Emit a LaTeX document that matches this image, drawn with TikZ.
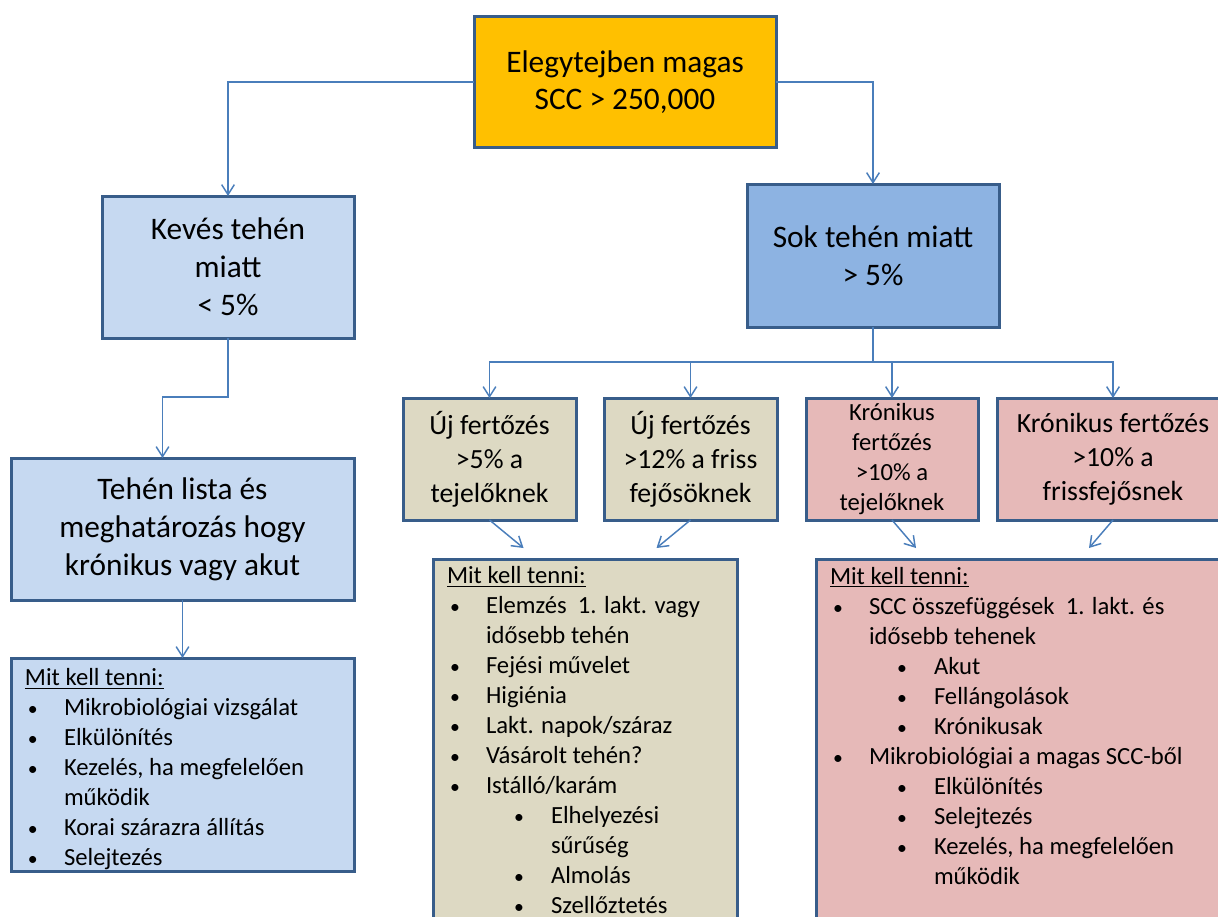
\documentclass[tikz,border=0pt]{standalone}
\usepackage{fontspec}
\setmainfont{Carlito}
\usepackage{xcolor}
\usepackage{tikz}
\usetikzlibrary{arrows.meta, positioning}

\definecolor{frame}{HTML}{385D8A}
\definecolor{link}{HTML}{4A7EBB}
\definecolor{gold}{HTML}{FFC000}
\definecolor{paleblue}{HTML}{C6D9F1}
\definecolor{midblue}{HTML}{8DB3E2}
\definecolor{tan}{HTML}{DDD9C3}
\definecolor{rose}{HTML}{E6B9B8}

% bullet lines of the "Mit kell tenni" lists
\newcommand{\bdot}{\scalebox{0.8}{\textbullet}}
\newcommand{\itm}[1]{\par\hspace*{2.25pt}\makebox[27pt][l]{\bdot}#1}
\newcommand{\cont}[1]{\par\hspace*{29.25pt}#1}
\newcommand{\sitm}[1]{\par\hspace*{50.25pt}\makebox[27.75pt][l]{\bdot}#1}
\newcommand{\scont}[1]{\par\hspace*{78pt}#1}

\begin{document}
\begin{tikzpicture}[x=0.75pt, y=-0.75pt]
\tikzstyle{box} = [draw=frame, line width=2.25pt, inner sep=0pt, outer sep=0pt, align=center]
\tikzstyle{big} = [font=\fontsize{23.5}{28.5}\selectfont]
\tikzstyle{mid} = [font=\fontsize{20.8}{25.5}\selectfont]
\tikzstyle{small} = [font=\fontsize{18.5}{22.5}\selectfont]
\tikzstyle{row} = [box, minimum height=91.5pt]
\tikzstyle{todo} = [box, small, anchor=north west]
\tikzstyle{conn} = [link, line width=1.1pt, -{Straight Barb[length=7.5pt, width=9.5pt]}]

\useasboundingbox (0,0) rectangle (1218,917);
\clip (0,0) rectangle (1218,917);

% top level
\node (elegy) [box, font=\fontsize{23.5}{27.5}\selectfont, fill=gold, minimum width=226.5pt, minimum height=98.25pt] at (625,82) {Elegytejben magas\\SCC > 250,000};
\node (keves) [box, big, fill=paleblue, minimum width=189pt, minimum height=106.5pt] at (228,267) {Kevés tehén\\miatt\\< 5\%};
\node (sok) [box, big, fill=midblue, minimum width=189pt, minimum height=107.25pt] at (873,255.5) {Sok tehén miatt\\> 5\%};

% left branch
\node (lista) [box, big, fill=paleblue, minimum width=257.25pt, minimum height=106.5pt] at (182.5,529) {Tehén lista és\\meghatározás hogy\\krónikus vagy akut};
\node (mitL) [todo, fill=paleblue, minimum width=257.25pt, minimum height=159.75pt] at (11,658) {\begin{minipage}[c][143.75pt][t]{236.25pt}
\underline{Mit kell tenni:}
\itm{Mikrobiológiai vizsgálat}
\itm{Elkülönítés}
\itm{Kezelés, ha megfelelően}
\cont{működik}
\itm{Korai szárazra állítás}
\itm{Selejtezés}
\end{minipage}};

% right branch
\node (uj1) [row, mid, fill=tan, minimum width=129.75pt] at (489.5,459) {Új fertőzés\\>5\% a\\tejelőknek};
\node (uj2) [row, mid, fill=tan, minimum width=129.75pt, right=21pt of uj1] {Új fertőzés\\>12\% a friss\\fejősöknek};
\node (kr1) [row, small, fill=rose, minimum width=129pt, right=21.75pt of uj2] {Krónikus\\fertőzés\\>10\% a\\tejelőknek};
\node (kr2) [row, mid, fill=rose, minimum width=174pt, right=14.25pt of kr1] {Krónikus fertőzés\\>10\% a\\frissfejősnek};

\node (mitM) [todo, fill=tan, minimum width=228pt, minimum height=330.75pt] at (433,559) {\begin{minipage}[c][319.25pt][t]{207pt}
\underline{Mit kell tenni:}
\itm{Elemzés\ \ 1. lakt. vagy}
\cont{idősebb tehén}
\itm{Fejési művelet}
\itm{Higiénia}
\itm{Lakt. napok/száraz}
\itm{Vásárolt tehén?}
\itm{Istálló/karám}
\sitm{Elhelyezési}
\scont{sűrűség}
\sitm{Almolás}
\sitm{Szellőztetés}
\end{minipage}};
\node (mitR) [todo, fill=rose, minimum width=318pt, minimum height=330.75pt] at (816,559) {\begin{minipage}[c][318pt][t]{297pt}
\underline{Mit kell tenni:}
\itm{SCC összefüggések\ \ 1. lakt. és}
\cont{idősebb tehenek}
\sitm{Akut}
\sitm{Fellángolások}
\sitm{Krónikusak}
\itm{Mikrobiológiai a magas SCC-ből}
\sitm{Elkülönítés}
\sitm{Selejtezés}
\sitm{Kezelés, ha megfelelően}
\scont{működik}
\end{minipage}};

% connectors
\draw [conn] (elegy.west) -| (keves.north);
\draw [conn] (elegy.east) -| (sok.north);
\draw [conn] (keves.south) -- ++(0,59) -| ([xshift=-15pt]lista.north);
\draw [conn] (lista.south) -- (mitL.north);

\coordinate (bus) at (sok.south |- 0,362);
\draw [link, line width=1.1pt] (sok.south) -- (bus);
\foreach \n in {uj1, uj2, kr1, kr2}
  \draw [conn] (bus) -| (\n.north);

\draw [conn] (uj1.south) -- ++(34,28);
\draw [conn] (uj2.south) -- ++(-34,28);
\draw [conn] (kr1.south) -- ++(24,28);
\draw [conn] (kr2.south) -- ++(-24,28);

\end{tikzpicture}
\end{document}
